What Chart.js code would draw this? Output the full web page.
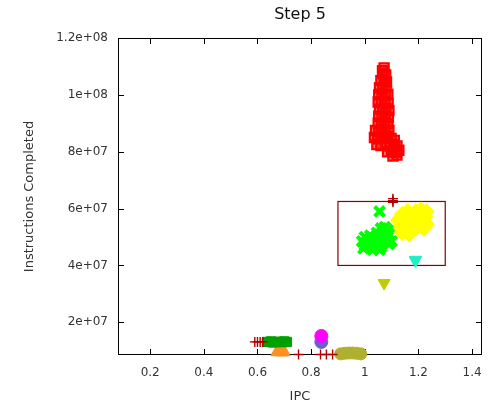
<!DOCTYPE html>
<html>
<head>
<meta charset="utf-8">
<script src="https://cdn.jsdelivr.net/npm/chart.js@4/dist/chart.umd.min.js"></script>
<style>
  html, body { margin: 0; padding: 0; background: #fff; }
</style>
</head>
<body>
<canvas id="chart" width="489" height="407"></canvas>
<script>
// axis ticks
const xTickValues = [0.2, 0.4, 0.6, 0.8, 1.0, 1.2, 1.4];
const yTickValues = [2e7, 4e7, 6e7, 8e7, 1e8, 1.2e8];
const chartTitle = 'Step 5';

// highlighted region [xMin, xMax, yMin, yMax]
const boxRegion = [0.9, 1.3, 4.0e7, 6.25e7];

// series, each point [IPC, instructions completed]
const redSquares = [
  [1.072, 1.095e8], [1.066, 1.085e8],
  [1.068, 1.075e8], [1.078, 1.07e8],
  [1.06, 1.05e8], [1.072, 1.052e8], [1.081, 1.045e8],
  [1.055, 1.025e8], [1.067, 1.02e8], [1.079, 1.028e8],
  [1.052, 1.0e8], [1.064, 1.003e8], [1.076, 9.98e7], [1.086, 1.002e8],
  [1.05, 9.75e7], [1.062, 9.72e7], [1.074, 9.78e7], [1.087, 9.7e7],
  [1.055, 9.5e7], [1.067, 9.47e7], [1.079, 9.52e7], [1.09, 9.45e7],
  [1.052, 9.25e7], [1.064, 9.22e7], [1.076, 9.28e7], [1.088, 9.2e7],
  [1.05, 9.0e7], [1.062, 8.97e7], [1.074, 9.03e7], [1.086, 8.98e7],
  [1.04, 8.75e7], [1.052, 8.72e7], [1.064, 8.78e7], [1.076, 8.7e7], [1.09, 8.76e7],
  [1.036, 8.5e7], [1.048, 8.45e7], [1.06, 8.52e7], [1.072, 8.48e7], [1.084, 8.55e7],
  [1.098, 8.47e7], [1.11, 8.4e7],
  [1.045, 8.25e7], [1.06, 8.22e7], [1.08, 8.28e7], [1.095, 8.2e7], [1.108, 8.26e7],
  [1.12, 8.2e7],
  [1.085, 8.0e7], [1.1, 8.03e7], [1.115, 7.98e7], [1.127, 8.05e7],
  [1.105, 7.85e7], [1.12, 7.88e7]
];
const darkRedPlus = [
  [1.105, 6.35e7], [1.105, 6.28e7], [1.105, 6.22e7],
  [0.59, 1.31e7], [0.60, 1.31e7], [0.61, 1.31e7], [0.62, 1.31e7],
  [0.753, 8.7e6], [0.835, 8.7e6], [0.857, 8.7e6], [0.88, 8.7e6]
];
const greenCrosses = [
  [1.055, 5.9e7],
  [1.06, 5.3e7], [1.075, 5.35e7], [1.085, 5.25e7], [1.045, 5.15e7], [1.065, 5.15e7],
  [1.09, 5.1e7], [1.0, 5.0e7], [1.02, 5.05e7], [1.04, 5.0e7], [1.06, 4.95e7],
  [1.08, 5.0e7], [0.99, 4.85e7], [1.01, 4.85e7], [1.03, 4.8e7], [1.05, 4.85e7],
  [1.07, 4.8e7], [1.09, 4.75e7], [1.0, 4.7e7], [1.02, 4.65e7], [1.04, 4.7e7],
  [1.06, 4.65e7], [1.1, 4.85e7], [1.03, 4.55e7], [1.055, 4.55e7], [0.995, 4.6e7]
];
const yellowMarks = [
  [1.16, 5.9e7], [1.19, 5.9e7], [1.21, 5.95e7], [1.23, 5.9e7], [1.14, 5.8e7],
  [1.17, 5.75e7], [1.2, 5.75e7], [1.225, 5.7e7], [1.125, 5.6e7], [1.15, 5.55e7],
  [1.18, 5.55e7], [1.21, 5.5e7], [1.23, 5.45e7], [1.13, 5.35e7], [1.16, 5.35e7],
  [1.19, 5.3e7], [1.22, 5.3e7], [1.14, 5.15e7], [1.165, 5.1e7], [1.155, 5.2e7]
];
const cyanTriangles = [[1.19, 4.2e7], [1.188, 4.18e7]];
const limeTriangles = [[1.072, 3.38e7]];
const greenSquares = [
  [0.635, 1.31e7], [0.65, 1.33e7], [0.665, 1.3e7], [0.68, 1.32e7], [0.695, 1.3e7],
  [0.71, 1.31e7], [0.655, 1.29e7], [0.70, 1.33e7]
];
const orangeTriangles = [[0.672, 9.5e6], [0.685, 9.6e6], [0.70, 9.5e6], [0.69, 9.4e6]];
const magentaCircles = [[0.838, 1.52e7]];
const slateCircles = [[0.838, 1.31e7]];
const oliveCircles = [
  [0.91, 8.9e6], [0.925, 9.1e6], [0.94, 9.2e6], [0.955, 9.2e6], [0.97, 9.1e6], [0.985, 8.9e6]
];

const toXY = pts => pts.map(p => ({ x: p[0], y: p[1] }));

function sci(v) {
  if (v === 0) return '0';
  const e = Math.floor(Math.log10(v) + 1e-9);
  const m = +(v / Math.pow(10, e)).toFixed(3);
  return m + 'e+' + String(e).padStart(2, '0');
}

// frame, inward ticks, highlighted box and title centred on the plot
const framePlugin = {
  id: 'frame',
  beforeDatasetsDraw(chart) {
    const { ctx, chartArea: a, scales: { x, y } } = chart;
    ctx.save();
    ctx.strokeStyle = '#000';
    ctx.lineWidth = 1;
    ctx.strokeRect(a.left + 0.5, a.top + 0.5, a.right - a.left - 1, a.bottom - a.top - 1);
    ctx.beginPath();
    xTickValues.forEach(v => {
      const px = Math.round(x.getPixelForValue(v)) + 0.5;
      ctx.moveTo(px, a.bottom); ctx.lineTo(px, a.bottom - 6);
      ctx.moveTo(px, a.top); ctx.lineTo(px, a.top + 6);
    });
    yTickValues.forEach(v => {
      const py = Math.round(y.getPixelForValue(v)) + 0.5;
      ctx.moveTo(a.left, py); ctx.lineTo(a.left + 6, py);
      ctx.moveTo(a.right, py); ctx.lineTo(a.right - 6, py);
    });
    ctx.stroke();

    const [x0, x1, y0, y1] = boxRegion;
    const l = x.getPixelForValue(x0), r = x.getPixelForValue(x1);
    const t = y.getPixelForValue(y1), b = y.getPixelForValue(y0);
    ctx.strokeStyle = '#8b0000';
    ctx.lineWidth = 1.2;
    ctx.strokeRect(l, t, r - l, b - t);

    ctx.fillStyle = '#111';
    ctx.font = '16px "DejaVu Sans"';
    ctx.textAlign = 'center';
    ctx.textBaseline = 'middle';
    ctx.fillText(chartTitle, (a.left + a.right) / 2, 15);
    ctx.restore();
  }
};

function ds(data, opts) {
  return Object.assign({
    data: toXY(data),
    clip: false,
    pointRadius: 6,
    pointHoverRadius: 6,
    pointBorderWidth: 1
  }, opts);
}

new Chart(document.getElementById('chart'), {
  type: 'scatter',
  data: {
    datasets: [
      ds(redSquares, { pointStyle: 'rect', pointRadius: 6.5, borderColor: '#ff0000', backgroundColor: 'rgba(255,0,0,0.55)', pointBorderWidth: 2.2 }),
      ds(greenCrosses, { pointStyle: 'crossRot', pointRadius: 7, borderColor: '#00ff00', backgroundColor: '#00ff00', pointBorderWidth: 4 }),
      ds(yellowMarks, { pointStyle: 'rectRot', pointRadius: 7, borderColor: '#ffff00', backgroundColor: '#ffff00', pointBorderWidth: 2 }),
      ds(darkRedPlus, { pointStyle: 'cross', pointRadius: 5, borderColor: '#b00000', backgroundColor: '#b00000', pointBorderWidth: 1.4 }),
      ds(cyanTriangles, { pointStyle: 'triangle', rotation: 180, pointRotation: 180, pointRadius: 7, borderColor: '#20f0c8', backgroundColor: '#20f0c8' }),
      ds(limeTriangles, { pointStyle: 'triangle', rotation: 180, pointRotation: 180, pointRadius: 7, borderColor: '#c0cc00', backgroundColor: '#c0cc00' }),
      ds(greenSquares, { pointStyle: 'rect', pointRadius: 6.5, borderColor: '#00a000', backgroundColor: '#00a000' }),
      ds(orangeTriangles, { pointStyle: 'triangle', pointRadius: 7, borderColor: '#ff9020', backgroundColor: '#ff9020' }),
      ds(oliveCircles, { pointStyle: 'circle', pointRadius: 6, borderColor: '#b0b030', backgroundColor: '#b0b030' }),
      ds(magentaCircles, { pointStyle: 'circle', pointRadius: 6.5, borderColor: '#ff00ff', backgroundColor: '#ff00ff' }),
      ds(slateCircles, { pointStyle: 'circle', pointRadius: 6.5, borderColor: '#6a60c8', backgroundColor: '#6a60c8' })
    ]
  },
  options: {
    responsive: false,
    animation: false,
    events: [],
    layout: { autoPadding: false, padding: { left: 0, right: 7, top: 38, bottom: 0 } },
    plugins: {
      legend: { display: false },
      tooltip: { enabled: false },
      title: { display: false }
    },
    scales: {
      x: {
        type: 'linear',
        min: 0.08,
        max: 1.437,
        grid: { display: false, drawTicks: false },
        border: { display: false },
        afterBuildTicks: s => { s.ticks = xTickValues.map(v => ({ value: v })); },
        afterFit: s => { s.height = 52; s.paddingLeft = 0; s.paddingRight = 0; },
        ticks: {
          padding: 11,
          color: '#333',
          font: { family: 'DejaVu Sans', size: 12 },
          maxRotation: 0,
          callback: v => String(+v.toFixed(2))
        },
        title: {
          display: true,
          text: 'IPC',
          color: '#333',
          font: { family: 'DejaVu Sans', size: 13 },
          padding: { top: 0, bottom: 3 }
        }
      },
      y: {
        type: 'linear',
        min: 8.5e6,
        max: 1.2e8,
        grid: { display: false, drawTicks: false },
        border: { display: false },
        afterBuildTicks: s => { s.ticks = yTickValues.map(v => ({ value: v })); },
        afterFit: s => { s.width = 118; s.paddingTop = 0; s.paddingBottom = 0; },
        ticks: {
          padding: 10,
          color: '#333',
          font: { family: 'DejaVu Sans', size: 12 },
          callback: v => sci(v)
        },
        title: {
          display: true,
          text: 'Instructions Completed',
          color: '#333',
          font: { family: 'DejaVu Sans', size: 13 },
          padding: { top: 22, bottom: 0 }
        }
      }
    }
  },
  plugins: [framePlugin]
});
</script>
</body>
</html>
